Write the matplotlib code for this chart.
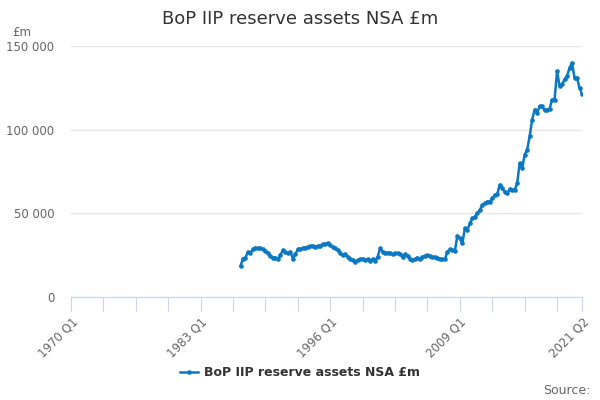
import matplotlib
matplotlib.use("Agg")
import matplotlib.pyplot as plt
from matplotlib.lines import Line2D

years = list(range(1970, 2022))
quarters = [f"{y} Q{q}" for y in years for q in range(1, 5)][:206]  # 1970 Q1 .. 2021 Q2

start_label = "1987 Q1"
values = [
    18500, 23000, 23500, 27000, 26500, 28500, 29500, 29000, 29000, 28500,
    27500, 26000, 24500, 23500, 23500, 22500, 25000, 28000, 27000, 26000,
    27000, 23000, 25500, 28500, 28500, 29000, 29500, 30000, 30500, 30500,
    30000, 30500, 30500, 31500, 31500, 32000, 31000, 30000, 29000, 28000,
    26500, 25000, 25500, 24000, 23000, 22000, 21000, 22000, 22500, 23000,
    22000, 22500, 21500, 22500, 21500, 24000, 29000, 27000, 26500, 26500,
    26000, 25500, 26000, 26000, 25500, 24000, 25500, 24500, 23000, 22000,
    22500, 23500, 22500, 24000, 24500, 25000, 24500, 24000, 24000, 23500,
    23000, 22500, 22500, 27000, 28500, 28000, 27500, 36500, 35000, 32000,
    41000, 40000, 44000, 47000, 48000, 50000, 52000, 55000, 56000, 57000,
    57000, 59000, 61000, 61500, 67000, 65000, 63000, 62000, 64500, 64000,
    64000, 68000, 80000, 77000, 85000, 88000, 96000, 106000, 112000, 110000,
    114000, 114000, 111500, 112000, 112500, 118000, 118000, 135000, 126000, 127000,
    130000, 132000, 137000, 140000, 131000, 131000, 125000, 121500,
]

tick_labels = ["1970 Q1", "1983 Q1", "1996 Q1", "2009 Q1", "2021 Q2"]
y_ticks = [0, 50000, 100000, 150000]
series_name = "BoP IIP reserve assets NSA £m"

blue = "#0a78c2"
start = quarters.index(start_label)
xs = list(range(start, start + len(values)))

fig = plt.figure(figsize=(6, 4), dpi=100)
ax = fig.add_axes([71 / 600, 1 - 297 / 400, (582 - 71) / 600, (297 - 46) / 400])

ax.plot(xs, values, color=blue, lw=1.8, marker="o", ms=2.3, zorder=3)

ax.set_xlim(0, len(quarters) - 1)
ax.set_ylim(0, 150000)
ax.set_yticks(y_ticks)
ax.set_yticklabels([f"{v:,}".replace(",", " ") for v in y_ticks])
ax.yaxis.grid(True, color="#e6e6e6", lw=1)
ax.set_axisbelow(True)

major = [quarters.index(l) for l in tick_labels]
minor = list(range(0, len(quarters), 13)) + [len(quarters) - 1]
ax.set_xticks(minor)
ax.set_xticklabels([quarters[i] if i in major else "" for i in minor],
                   rotation=45, ha="right", rotation_mode="anchor")

for s in ["top", "right", "left"]:
    ax.spines[s].set_visible(False)
ax.spines["bottom"].set_color("#ccd6eb")
ax.tick_params(axis="x", length=10, color="#ccd6eb", labelsize=8.5,
               labelcolor="#666666", pad=3)
ax.tick_params(axis="y", length=0, labelsize=8.5, labelcolor="#666666", pad=12)

fig.text(0.5, 0.953, series_name, ha="center", va="center", fontsize=13, color="#333333")
fig.text(12 / 600, 1 - 32 / 400, "£m", ha="left", va="center", fontsize=8.5, color="#666666")

handle = Line2D([], [], color=blue, lw=1.8, marker="o", ms=2.3)
fig.legend([handle], [series_name], loc="center", bbox_to_anchor=(0.5, 1 - 373 / 400),
           frameon=False, handlelength=1.4, handletextpad=0.5,
           prop={"weight": "bold", "size": 9})
for t in fig.legends[0].get_texts():
    t.set_color("#333333")

fig.text(590 / 600, 1 - 390 / 400, "Source:", ha="right", va="center", fontsize=9, color="#666666")

fig.savefig("out.png", dpi=100)
